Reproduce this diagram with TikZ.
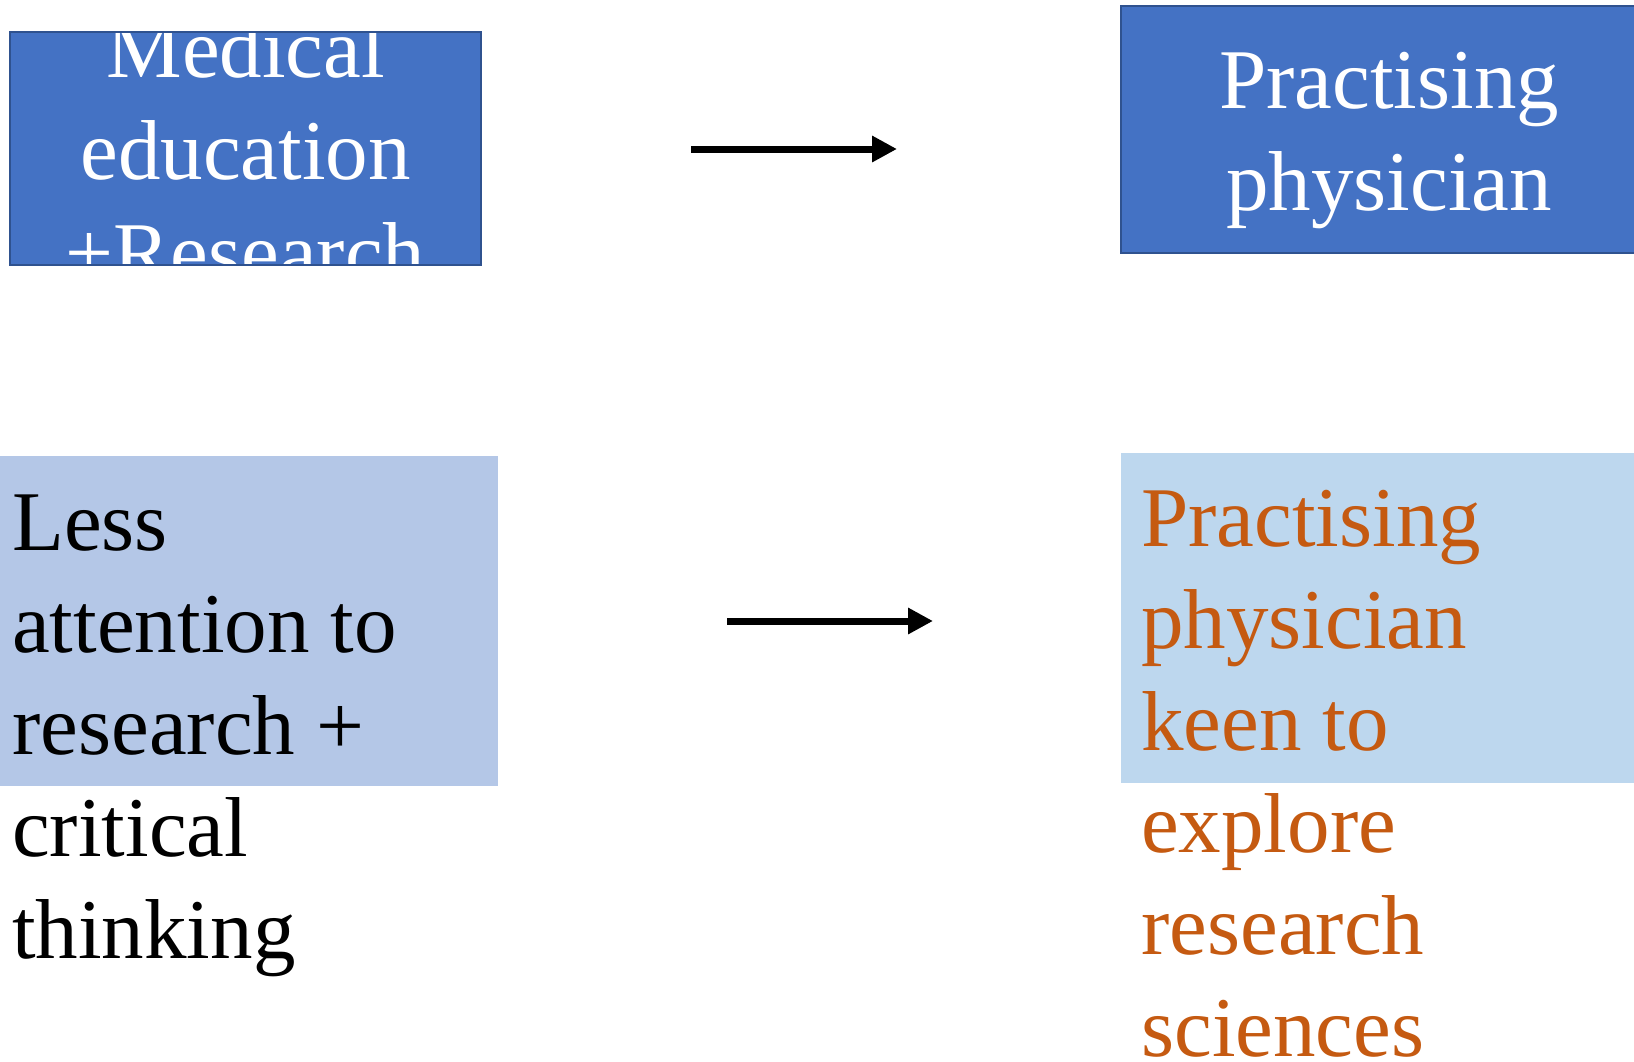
\documentclass[tikz,border=0pt]{standalone}
\usepackage{fontspec}
\setmainfont{Liberation Serif}
\usetikzlibrary{arrows.meta,positioning}
\definecolor{boxblue}{HTML}{4472C4}
\definecolor{boxedge}{HTML}{2F528F}
\definecolor{paleblue}{HTML}{B4C7E7}
\definecolor{skyblue}{HTML}{BDD7EE}
\definecolor{rust}{HTML}{C55A11}

\begin{document}
\begin{tikzpicture}
	[x=1pt,y=-1pt,
	 bigtext/.style={font=\fontsize{85}{102}\selectfont,inner sep=0pt},
	 darkbox/.style={fill=boxblue,inner sep=0pt,anchor=north west},
	 litebox/.style={inner sep=0pt,anchor=north west},
	 edgeline/.style={draw=boxedge,line width=2pt},
	 flow/.style={-{Triangle[length=25pt,width=25pt]},line width=7pt}]
	\useasboundingbox (0,0) rectangle (1634,1061);
	\clip (0,0) rectangle (1634,1061);
	% top row
	\node[darkbox,minimum width=471pt,minimum height=233pt] (med) at (10,32) {};
	\begin{scope}
		\clip (med.north west) rectangle (med.south east);
		\node[bigtext,text=white,align=center] (medtext) at ([yshift=-1.5pt]med.center) {Medical\\education\\+Research};
	\end{scope}
	\draw[edgeline] (med.north west) rectangle (med.south east);
	\node[darkbox,edgeline,minimum width=536pt,minimum height=247pt] (prac) at (1120,5) {};
	\node[bigtext,text=white,align=center] (practext) at ([yshift=-11.5pt]prac.center) {Practising\\physician};
	\coordinate (topstart) at (691,149);
	\coordinate (topend) at (897,149);
	\draw[flow] (topstart) -- (topend);
	% bottom row
	\node[litebox,fill=paleblue,minimum width=498pt,minimum height=330pt] (less) at (0,456) {};
	\node[bigtext,align=left,anchor=north west] (lesstext) at (12,495) {Less\\attention to\\research +\\critical\\thinking};
	\node[litebox,fill=skyblue,minimum width=530pt,minimum height=330pt] (keen) at (1121,453) {};
	\node[bigtext,text=rust,align=left,anchor=north west] (keentext) at (1141,490) {Practising\\physician\\keen to\\explore\\research\\sciences};
	\coordinate (lowstart) at (727,621);
	\coordinate (lowend) at (933,621);
	\draw[flow] (lowstart) -- (lowend);
\end{tikzpicture}
\end{document}
